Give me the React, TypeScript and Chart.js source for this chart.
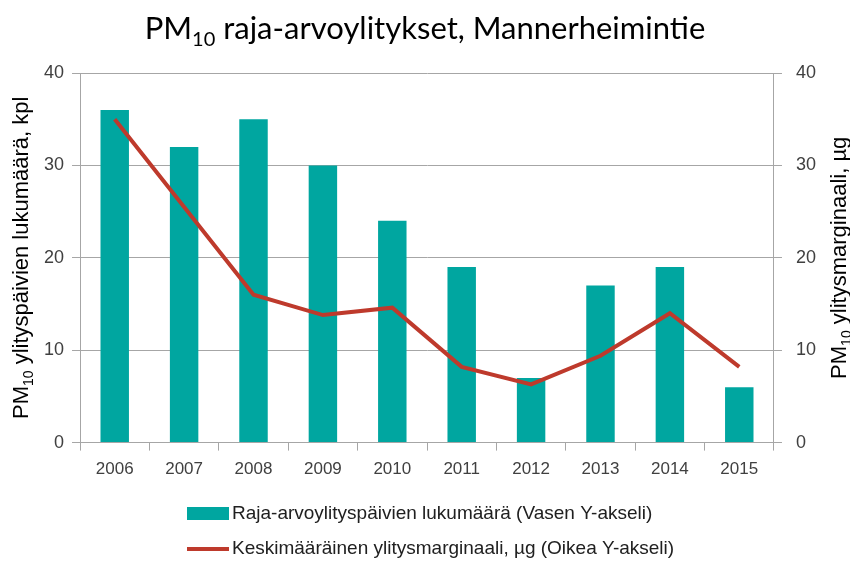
import React, { useEffect, useRef } from "react";
import { Chart, registerables } from "chart.js";

Chart.register(...registerables);

const years = ["2006", "2007", "2008", "2009", "2010", "2011", "2012", "2013", "2014", "2015"];
const exceedanceDays = [36, 32, 35, 30, 24, 19, 7, 17, 19, 6];
const avgMargin = [35, 25.5, 16, 13.8, 14.6, 8.2, 6.3, 9.4, 14, 8.2];
const axisTicks = [0, 10, 20, 30, 40];

// [main, subscript, rest]
const titleParts = ["PM", "10", " raja-arvoylitykset, Mannerheimintie"];
const leftTitleParts = ["PM", "10", " ylityspäivien lukumäärä, kpl"];
const rightTitleParts = ["PM", "10", " ylitysmarginaali, µg"];
const barLabel = "Raja-arvoylityspäivien lukumäärä (Vasen Y-akseli)";
const lineLabel = "Keskimääräinen ylitysmarginaali, µg (Oikea Y-akseli)";

const TEAL = "#00A6A0";
const RED = "#BE3A2C";
const GRID = "#A6A6A6";
const TICK = "#404040";
const SANS = "'Liberation Sans', Arial, sans-serif";
const TITLE_FONT = "Lato, 'Open Sans', sans-serif";

function subText(ctx: any, parts: string[], size: number, family: string) {
  ctx.font = `${size}px ${family}`;
  const w0 = ctx.measureText(parts[0]).width;
  const w2 = ctx.measureText(parts[2]).width;
  ctx.font = `${Math.round(size * 0.65)}px ${family}`;
  const w1 = ctx.measureText(parts[1]).width;
  return { w0, w1, w2, total: w0 + w1 + w2 };
}

function drawSubText(ctx: any, parts: string[], size: number, family: string, cx: number, baseline: number) {
  const m = subText(ctx, parts, size, family);
  let x = cx - m.total / 2;
  ctx.textAlign = "left";
  ctx.textBaseline = "alphabetic";
  ctx.font = `${size}px ${family}`;
  ctx.fillText(parts[0], x, baseline);
  x += m.w0;
  ctx.font = `${Math.round(size * 0.65)}px ${family}`;
  ctx.fillText(parts[1], x, baseline + size * 0.22);
  x += m.w1;
  ctx.font = `${size}px ${family}`;
  ctx.fillText(parts[2], x, baseline);
}

const textPlugin = {
  id: "customTexts",
  afterDraw(chart: any) {
    const ctx = chart.ctx;
    const area = chart.chartArea;
    const midY = (area.top + area.bottom) / 2;
    ctx.save();
    ctx.fillStyle = "#000";
    // title
    drawSubText(ctx, titleParts, 31, TITLE_FONT, 425, 39);
    // left axis title
    ctx.save();
    ctx.translate(28, midY);
    ctx.rotate(-Math.PI / 2);
    drawSubText(ctx, leftTitleParts, 22, SANS, 0, 0);
    ctx.restore();
    // right axis title
    ctx.save();
    ctx.translate(846, midY);
    ctx.rotate(-Math.PI / 2);
    drawSubText(ctx, rightTitleParts, 22, SANS, 0, 0);
    ctx.restore();

    // legend
    const x0 = 187;
    ctx.font = `19px ${SANS}`;
    ctx.textBaseline = "middle";
    ctx.textAlign = "left";
    ctx.fillStyle = TEAL;
    ctx.fillRect(x0, 507, 42, 13);
    ctx.fillStyle = "#202020";
    ctx.fillText(chart.data.datasets[0].label, x0 + 45, 514);
    ctx.strokeStyle = RED;
    ctx.lineWidth = 4;
    ctx.beginPath();
    ctx.moveTo(x0, 549);
    ctx.lineTo(x0 + 42, 549);
    ctx.stroke();
    ctx.fillText(chart.data.datasets[1].label, x0 + 45, 549);
    ctx.restore();
  },
};

export default function App() {
  const ref = useRef<HTMLCanvasElement | null>(null);
  useEffect(() => {
    document.body.style.margin = "0";
    if (!ref.current) return;
    const chart = new Chart(ref.current, {
      type: "bar",
      data: {
        labels: years,
        datasets: [
          {
            type: "bar",
            label: barLabel,
            data: exceedanceDays,
            yAxisID: "y",
            backgroundColor: TEAL,
            borderWidth: 0,
            categoryPercentage: 1,
            barPercentage: 0.41,
            order: 2,
          } as any,
          {
            type: "line",
            label: lineLabel,
            data: avgMargin,
            yAxisID: "y1",
            borderColor: RED,
            backgroundColor: RED,
            borderWidth: 4,
            pointRadius: 0,
            tension: 0,
            order: 1,
          } as any,
        ],
      },
      options: {
        animation: false,
        responsive: false,
        maintainAspectRatio: false,
        layout: { padding: { top: 73, left: 36, right: 20, bottom: 72 } },
        plugins: {
          legend: { display: false },
          tooltip: { enabled: false },
          title: { display: false },
        },
        scales: {
          x: {
            offset: true,
            grid: {
              offset: true,
              drawOnChartArea: false,
              drawTicks: true,
              tickLength: 8,
              color: GRID,
            },
            border: { color: GRID, width: 1 },
            ticks: { color: TICK, font: { family: SANS, size: 17 }, padding: 9 },
          },
          y: {
            position: "left",
            min: 0,
            max: 40,
            afterBuildTicks: (axis: any) => {
              axis.ticks = axisTicks.map((v) => ({ value: v }));
            },
            grid: { color: GRID, tickLength: 8, drawTicks: true },
            border: { color: GRID, width: 1 },
            ticks: { color: TICK, font: { family: SANS, size: 18 }, padding: 8 },
          },
          y1: {
            position: "right",
            min: 0,
            max: 40,
            afterBuildTicks: (axis: any) => {
              axis.ticks = axisTicks.map((v) => ({ value: v }));
            },
            grid: { drawOnChartArea: false, color: GRID, tickLength: 8, drawTicks: true },
            border: { color: GRID, width: 1 },
            ticks: { color: TICK, font: { family: SANS, size: 18 }, padding: 14 },
          },
        },
      },
      plugins: [textPlugin],
    } as any);
    return () => chart.destroy();
  }, []);
  return (
    <div style={{ position: "fixed", left: 0, top: 0, width: 850, height: 561, background: "#fff" }}>
      <canvas ref={ref} width={850} height={561} style={{ width: 850, height: 561 }} />
    </div>
  );
}
